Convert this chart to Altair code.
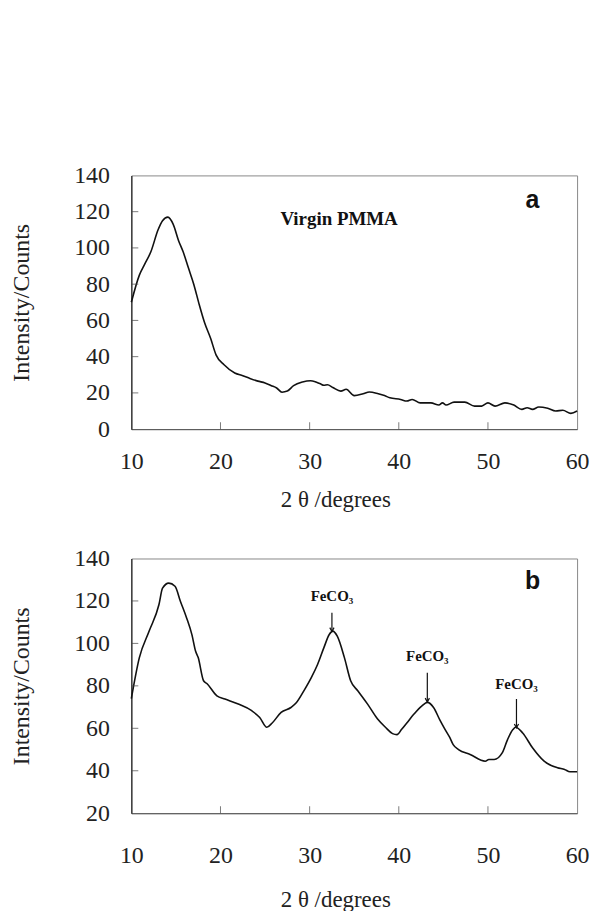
import altair as alt
import pandas as pd

# ---------------- data ----------------
# Panel a: virgin PMMA
xa = [10, 10.9, 11.5, 12.2, 13.0, 13.5, 14.1, 14.7, 15.3, 15.8, 16.4, 17.0, 17.6, 18.2,
      18.9, 19.5, 20.4, 21.6, 22.5, 23.3, 24.2, 25.0, 25.7, 26.3, 26.9, 27.5, 28.2, 29.2,
      30.1, 30.7, 31.2, 31.6, 32.0, 32.6, 33.5, 34.1, 35.0, 36.0, 36.7, 37.7, 38.4, 39.0,
      40.2, 40.9, 41.5, 42.4, 43.6, 44.5, 44.9, 45.3, 46.2, 47.4, 48.5, 49.3, 50.0, 50.8,
      51.9, 52.9, 53.8, 54.4, 55.0, 55.7, 56.7, 57.6, 58.4, 59.3, 60.0]
ya = [70, 85, 91, 98, 110, 115, 117, 113, 104, 98, 89, 80, 69, 59,
      50, 41, 35.5, 31, 29.5, 28, 26.5, 25.5, 24, 22.7, 20.4, 21, 24, 26,
      26.7, 26, 25, 24.2, 24.5, 23, 21, 22, 18.5, 19.5, 20.5, 19.5, 18.5, 17.3,
      16.4, 15.5, 16.4, 14.5, 14.5, 13.3, 14.5, 13.3, 14.9, 14.9, 12.7, 12.7, 14.5, 12.7,
      14.5, 13.3, 10.9, 11.8, 10.9, 12.2, 11.5, 10, 10.4, 8.7, 10]

# Panel b: PMMA with FeCO3
xb = [10, 10.9, 12.0, 13.1, 13.5, 14.2, 14.9, 15.5, 16.2, 16.8, 17.2, 17.5, 18.1, 18.5,
      19.6, 20.5, 22.0, 23.5, 24.4, 25.2, 25.8, 26.8, 27.9, 28.5, 29.4, 30.2, 30.9, 31.6,
      32.2, 32.6, 33.1, 33.9, 34.6, 35.4, 36.5, 37.6, 38.5, 39.3, 39.8, 40.3, 40.9, 41.7,
      42.6, 43.2, 43.9, 44.6, 45.2, 45.7, 46.1, 46.7, 48.0, 49.7, 50.1, 50.7, 51.6, 52.2,
      52.8, 53.1, 53.9, 55.0, 56.3, 57.8, 58.6, 59.2, 60.0]
yb = [74, 93.3, 105.8, 118.3, 126, 128.4, 126.9, 119.9, 112, 104, 96.4, 93.3, 82.4, 81,
      75.3, 73.8, 71.4, 68.3, 65.1, 60.5, 62.5, 67.5, 69.8, 72, 78, 84, 90.2, 98,
      104.2, 105.8, 103.4, 93.3, 82.4, 77.7, 71.4, 64.5, 60.5, 57.5, 57, 59.4, 62.5, 66.7,
      70.6, 72.2, 69.8, 64, 59.4, 55.8, 52.3, 50, 47.7, 44.5, 45.3, 45.3, 48.4, 54.7,
      59.4, 60.5, 57.8, 50.8, 44.5, 41.4, 40.6, 39.5, 39.5]

# tick values
x_ticks = [10, 20, 30, 40, 50, 60]
y_ticks_a = [0, 20, 40, 60, 80, 100, 120, 140]
y_ticks_b = [20, 40, 60, 80, 100, 120, 140]

# annotations
a_label = ["Virgin PMMA"]
a_label_x = [33.3]
a_label_y = [116]
panel_letters = ["a", "b"]
letter_x = [55.0, 55.0]
letter_y = [126.5, 129.5]

fe_label = ["FeCO₃", "FeCO₃", "FeCO₃"]
fe_x = [32.5, 43.2, 53.2]
fe_label_y = [122.2, 94.1, 80.8]
fe_arrow_top = [114.4, 86.2, 73.8]
fe_arrow_tip = [105.6, 72.4, 60.2]

# ---------------- styling ----------------
W = 448
SERIF = "Liberation Serif"
LINE = "#111111"
X_TITLE = "2\u00a0θ\u00a0/degrees"

df_a = pd.DataFrame({"x": xa, "y": ya})
df_b = pd.DataFrame({"x": xb, "y": yb})


def make_panel(df, ydom, yticks, label_pad_x, title_pad_x, letter_idx, height):
    xs = alt.Scale(domain=[10, 60], nice=False, zero=False)
    ys = alt.Scale(domain=ydom, nice=False, zero=False)
    xaxis = alt.Axis(values=x_ticks, ticks=False, tickSize=0, grid=False,
                     labelFont=SERIF, labelFontSize=24, labelColor="#222",
                     labelPadding=label_pad_x, labelFlush=False, labelOverlap=False,
                     title=X_TITLE, titleFont=SERIF, titleFontSize=23,
                     titleFontWeight="normal", titleColor="#222",
                     titleX=205, titleAlign="center",
                     titlePadding=title_pad_x, domainColor="#555", domainWidth=1)
    yaxis = alt.Axis(values=yticks, ticks=False, tickSize=0, grid=False,
                     labelFont=SERIF, labelFontSize=24, labelColor="#222",
                     labelPadding=22, labelFlush=False, labelOverlap=False,
                     title="Intensity/Counts", titleFont=SERIF, titleFontSize=24,
                     titleFontWeight="normal", titleColor="#222",
                     titlePadding=40, domainColor="#222", domainWidth=1.2)

    def X(field):
        return alt.X(field, scale=xs, axis=xaxis)

    def Y(field):
        return alt.Y(field, scale=ys, axis=yaxis)

    line = alt.Chart(df).mark_line(color=LINE, strokeWidth=1.6,
                                   interpolate="monotone").encode(
        x=X("x:Q"), y=Y("y:Q"), order="x:Q")

    xt = alt.Chart(pd.DataFrame({"t": x_ticks[1:-1]})).mark_tick(
        color="#444", thickness=1, size=7).encode(
        x=X("t:Q"), y=alt.value(height - 3.5))
    yt = alt.Chart(pd.DataFrame({"t": yticks[1:-1]})).mark_tick(
        color="#444", thickness=1, size=7).encode(
        y=Y("t:Q"), x=alt.value(3.5))

    letter = alt.Chart(pd.DataFrame({
        "x": [letter_x[letter_idx]], "y": [letter_y[letter_idx]],
        "t": [panel_letters[letter_idx]]})).mark_text(
        font="Liberation Sans", fontWeight="bold", fontSize=25, color="#111",
        align="center", baseline="middle").encode(
        x=X("x:Q"), y=Y("y:Q"), text="t:N")

    return [line, xt, yt, letter], X, Y


layers_a, Xa, Ya = make_panel(df_a, [0, 140], y_ticks_a, 21, 15, 0, 255)
virgin = alt.Chart(pd.DataFrame({"x": a_label_x, "y": a_label_y, "t": a_label})).mark_text(
    font=SERIF, fontWeight="bold", fontSize=19, color="#111",
    align="center", baseline="middle").encode(
    x=Xa("x:Q"), y=Ya("y:Q"), text="t:N")
panel_a = alt.layer(*layers_a, virgin).properties(width=W, height=255)

layers_b, Xb, Yb = make_panel(df_b, [20, 140], y_ticks_b, 31, 21, 1, 256)
df_fe = pd.DataFrame({"x": fe_x, "ly": fe_label_y, "top": fe_arrow_top,
                      "tip": fe_arrow_tip, "t": fe_label})
fe_text = alt.Chart(df_fe).mark_text(
    font=SERIF, fontWeight="bold", fontSize=15, color="#111",
    align="center", baseline="middle").encode(
    x=Xb("x:Q"), y=Yb("ly:Q"), text="t:N")
fe_rule = alt.Chart(df_fe).mark_rule(color="#111", strokeWidth=1.2).encode(
    x=Xb("x:Q"), y=Yb("top:Q"), y2="tip:Q")
fe_head = alt.Chart(df_fe).mark_point(
    shape="M-0.55,-1L0,0L0.55,-1", filled=False, color="#111",
    strokeWidth=1.2, size=60, opacity=1).encode(
    x=Xb("x:Q"), y=Yb("tip:Q"))
panel_b = alt.layer(*layers_b, fe_rule, fe_head, fe_text).properties(width=W, height=256)

chart = alt.vconcat(panel_a, panel_b, spacing=33).properties(
    padding={"left": 9, "top": 161, "right": 5, "bottom": 0},
    background="white",
).configure_view(stroke="#888", strokeWidth=1)

chart.save("out.html", embed_options={"renderer": "svg", "actions": False})
